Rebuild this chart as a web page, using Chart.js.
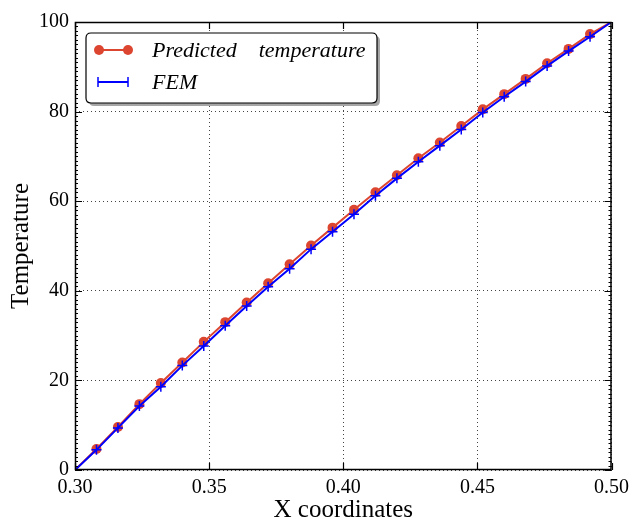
<!DOCTYPE html>
<html><head><meta charset="utf-8">
<script src="https://cdn.jsdelivr.net/npm/chart.js@4.4.0/dist/chart.umd.min.js"></script>
<style>html,body{margin:0;padding:0;background:#fff}#wrap{width:635px;height:522px}</style>
</head><body><div id="wrap"><canvas id="c" width="635" height="522"></canvas></div>
<script>
const xCoords = [0.300,0.308,0.316,0.324,0.332,0.340,0.348,0.356,0.364,0.372,0.380,0.388,0.396,0.404,0.412,0.420,0.428,0.436,0.444,0.452,0.460,0.468,0.476,0.484,0.492,0.500];
const predicted = [0,4.7,9.6,14.7,19.4,24.0,28.6,33.0,37.4,41.7,45.9,50.1,54.1,58.1,62.0,65.8,69.6,73.1,76.8,80.5,83.9,87.3,90.8,94.0,97.3,100];
const fem = [0,4.5,9.4,14.3,18.6,23.3,27.7,32.2,36.6,40.9,44.9,49.3,53.2,57.1,61.2,65.1,68.8,72.4,76.0,79.8,83.3,86.7,90.2,93.5,96.7,100];
const xTicks = [0.30,0.35,0.40,0.45,0.50];
const yTicks = [0,20,40,60,80,100];
const seriesNames = ['Predicted    temperature','FEM'];
const RED = '#dc4530', BLUE = '#0000ff';
const SERIF = '"Liberation Serif","DejaVu Serif",serif';

const framePlugin = {
  id:'frame',
  afterDatasetsDraw(chart){
    const {ctx, chartArea:a, scales:{x,y}} = chart;
    ctx.save();
    ctx.strokeStyle='#000'; ctx.lineWidth=1;
    ctx.beginPath();
    for(let v=0; v<=100; v+=1){ const py=Math.round(y.getPixelForValue(v))+0.5;
      ctx.moveTo(a.left,py); ctx.lineTo(a.left+3,py); ctx.moveTo(a.right,py); ctx.lineTo(a.right-3,py);}
    ctx.stroke();
    ctx.lineWidth=1.2;
    ctx.beginPath();
    xTicks.forEach(v=>{const px=Math.round(x.getPixelForValue(v))+0.5;
      ctx.moveTo(px,a.bottom); ctx.lineTo(px,a.bottom-7); ctx.moveTo(px,a.top); ctx.lineTo(px,a.top+7);});
    yTicks.forEach(v=>{const py=Math.round(y.getPixelForValue(v))+0.5;
      ctx.moveTo(a.left,py); ctx.lineTo(a.left+7,py); ctx.moveTo(a.right,py); ctx.lineTo(a.right-7,py);});
    ctx.stroke();
    ctx.lineWidth=1.5;
    ctx.strokeRect(a.left+0.5,a.top+0.5,a.right-a.left-1,a.bottom-a.top-1);
    // legend
    const L=86,T=33,W=291,H=70,r=5;
    function rr(x0,y0){ctx.beginPath();ctx.moveTo(x0+r,y0);ctx.lineTo(x0+W-r,y0);ctx.quadraticCurveTo(x0+W,y0,x0+W,y0+r);
      ctx.lineTo(x0+W,y0+H-r);ctx.quadraticCurveTo(x0+W,y0+H,x0+W-r,y0+H);ctx.lineTo(x0+r,y0+H);ctx.quadraticCurveTo(x0,y0+H,x0,y0+H-r);
      ctx.lineTo(x0,y0+r);ctx.quadraticCurveTo(x0,y0,x0+r,y0);ctx.closePath();}
    ctx.fillStyle='rgba(0,0,0,0.35)'; rr(L+3,T+3); ctx.fill();
    ctx.fillStyle='#fff'; rr(L,T); ctx.fill(); ctx.lineWidth=1.2; ctx.strokeStyle='#000'; ctx.stroke();
    ctx.strokeStyle=RED; ctx.lineWidth=2; ctx.beginPath(); ctx.moveTo(99,50); ctx.lineTo(128,50); ctx.stroke();
    ctx.fillStyle=RED; [99,128].forEach(cx=>{ctx.beginPath();ctx.arc(cx,50,5,0,Math.PI*2);ctx.fill();});
    ctx.strokeStyle=BLUE; ctx.lineWidth=2; ctx.beginPath(); ctx.moveTo(98,82); ctx.lineTo(128,82); ctx.stroke();
    ctx.lineWidth=1.5; ctx.beginPath();[98,128].forEach(cx=>{ctx.moveTo(cx,77);ctx.lineTo(cx,87);}); ctx.stroke();
    ctx.fillStyle='#000'; ctx.font='italic 22px '+SERIF; ctx.textBaseline='alphabetic'; ctx.textAlign='left';
    ctx.fillText(seriesNames[0],152,57);
    ctx.fillText(seriesNames[1],152,89);
    ctx.restore();
  }
};

const gridOpts = {color:'#444',lineWidth:1,drawTicks:false};
new Chart(document.getElementById('c'),{
  type:'line',
  data:{datasets:[
    {label:seriesNames[0],data:xCoords.map((v,i)=>({x:v,y:predicted[i]})),borderColor:RED,backgroundColor:RED,borderWidth:2,
     pointStyle:'circle',pointRadius:xCoords.map((v,i)=>(i===0||i===xCoords.length-1)?0:5),pointBorderWidth:0,tension:0,order:2},
    {label:seriesNames[1],data:xCoords.map((v,i)=>({x:v,y:fem[i]})),borderColor:BLUE,backgroundColor:BLUE,borderWidth:2,
     pointStyle:'cross',pointRadius:xCoords.map((v,i)=>(i===0||i===xCoords.length-1)?0:5),pointBorderWidth:1.5,tension:0,order:1}
  ]},
  options:{
    responsive:false,animation:false,devicePixelRatio:1,
    layout:{padding:{top:22,right:21,left:0,bottom:0}},
    plugins:{legend:{display:false},tooltip:{enabled:false}},
    scales:{
      x:{type:'linear',min:0.30,max:0.50,
        afterBuildTicks(s){s.ticks=xTicks.map(v=>({value:v}));},
        afterFit(s){s.height=52;},
        ticks:{callback:v=>v.toFixed(2),font:{family:SERIF,size:20},color:'#000',padding:6,maxRotation:0},
        grid:gridOpts,border:{display:false,dash:[1,3]},
        title:{display:true,text:'X coordinates',font:{family:SERIF,size:25,lineHeight:0.9},color:'#000',padding:{top:0,bottom:0}}},
      y:{type:'linear',min:0,max:100,
        afterBuildTicks(s){s.ticks=yTicks.map(v=>({value:v}));},
        afterFit(s){s.width=75;},
        ticks:{font:{family:SERIF,size:20},color:'#000',padding:6},
        grid:gridOpts,border:{display:false,dash:[1,3]},
        title:{display:true,text:'Temperature',font:{family:SERIF,size:25},color:'#000',padding:{top:6,bottom:0}}}
    }
  },
  plugins:[framePlugin]
});
</script></body></html>
